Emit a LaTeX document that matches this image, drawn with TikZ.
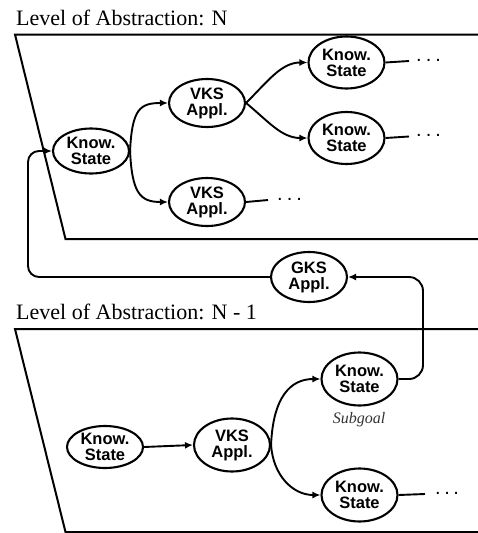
\documentclass[tikz,border=0pt]{standalone}
\usepackage{fontspec}
\setmainfont{Liberation Serif}
\newfontfamily\nodefont{Liberation Sans}
\usetikzlibrary{shapes.geometric,arrows.meta}
\begin{document}
\begin{tikzpicture}[x=1pt,y=-1pt,
  oval/.style={draw, ellipse, line width=2.1pt, inner sep=0pt, minimum width=76pt,
    align=center, font=\nodefont\fontsize{16.5pt}{16pt}\selectfont\bfseries},
  conn/.style={line width=1.9pt, -{Latex[length=8pt,width=7pt]}},
  plain/.style={line width=1.9pt},
  frame/.style={line width=2pt},
  title/.style={anchor=base west, inner sep=0pt, font=\fontsize{22pt}{24pt}\selectfont},
  dots/.style={anchor=west, inner sep=0pt, font=\nodefont\fontsize{20pt}{20pt}\selectfont},
]
\useasboundingbox (0,0) rectangle (477,533);

% titles
\node[title] (t1) at (16,25) {Level of Abstraction: N};
\node[title] (t2) at (16,319) {Level of Abstraction: N - 1};

% frames
\draw[frame] (480,34.5) -- (15,34.5) -- (65.5,239) -- (480,239);
\draw[frame] (480,329) -- (15,329) -- (65.5,532) -- (480,532);

% top level nodes
\node[oval, minimum height=45pt] (ks1) at (91,151) {Know.\\State};
\node[oval, minimum height=48pt] (vks1) at (207,103) {VKS\\Appl.};
\node[oval, minimum height=48pt] (vks2) at (207,202) {VKS\\Appl.};
\node[oval, minimum height=52pt] (ks2) at (346.5,62.5) {Know.\\State};
\node[oval, minimum height=52pt] (ks3) at (346.5,138) {Know.\\State};

% GKS
\node[oval, minimum height=50pt] (gks) at (309,277) {GKS\\Appl.};

% bottom level nodes
\node[oval, minimum height=42pt] (ks4) at (105,447) {Know.\\State};
\node[oval, minimum height=53pt] (vks3) at (232,445) {VKS\\Appl.};
\node[oval, minimum height=53pt] (ks5) at (359.5,379) {Know.\\State};
\node[oval, minimum height=53pt] (ks6) at (359.5,495) {Know.\\State};
\node[anchor=base, inner sep=0pt, font=\fontsize{16pt}{16pt}\selectfont\itshape, text=black!80] (sg) at (359,423) {Subgoal};

% dots
\coordinate (e2) at (409,61);
\coordinate (e3) at (409,136.5);
\coordinate (ev2) at (268,200);
\coordinate (e6) at (425,494);
\node[dots] (d2) at (416,60) {.\hspace{4pt}.\hspace{4pt}.};
\node[dots] (d3) at (416,135.5) {.\hspace{4pt}.\hspace{4pt}.};
\node[dots] (dv2) at (277,199) {.\hspace{4pt}.\hspace{4pt}.};
\node[dots] (d6) at (435,493) {.\hspace{3.5pt}.\hspace{3.5pt}.};
\draw[plain] (ks2.east) -- (e2);
\draw[plain] (ks3.east) -- (e3);
\draw[plain] (vks2.east) -- (ev2);
\draw[plain] (ks6.east) -- (e6);

% connectors top
\draw[conn] (ks1.east) .. controls +(2,-42) and +(-28,0) .. (vks1.west);
\draw[conn] (ks1.east) .. controls +(2,42) and +(-28,0) .. (vks2.west);
\draw[conn] (vks1.east) .. controls +(22,-22) and +(-26,0) .. (ks2.west);
\draw[conn] (vks1.east) .. controls +(22,18) and +(-26,0) .. (ks3.west);

% feedback
\draw[conn, rounded corners=11pt] (gks.west) -- (28,277) -- (28,151) -- (ks1.west);
\draw[conn, rounded corners=14pt] (ks5.east) -| (423,277) -- (gks.east);

% connectors bottom
\draw[conn] (ks4.east) -- (vks3.west);
\draw[conn] (vks3.east) .. controls +(2,-48) and +(-30,0) .. (ks5.west);
\draw[conn] (vks3.east) .. controls +(2,30) and +(-28,0) .. (ks6.west);
\end{tikzpicture}
\end{document}
